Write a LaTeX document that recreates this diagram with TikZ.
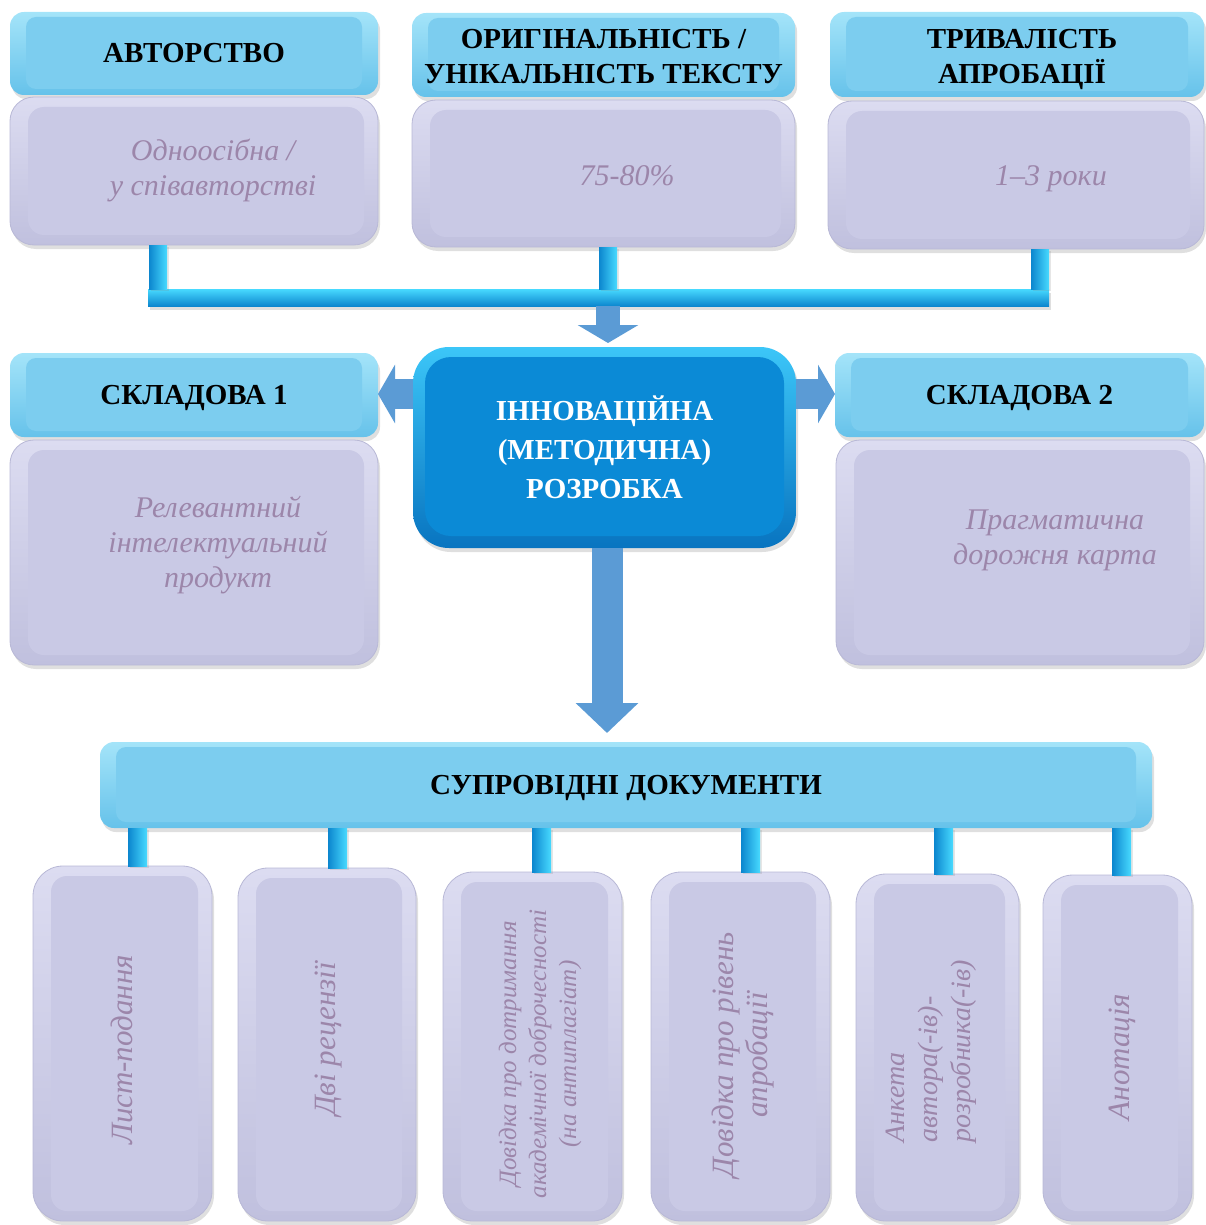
\documentclass[tikz,border=0pt]{standalone}
\usepackage{fontspec}
\setmainfont{Liberation Serif}
\usetikzlibrary{shadows,arrows.meta,calc}

\definecolor{hdrtop}{HTML}{A4E4F9}
\definecolor{hdrbot}{HTML}{66C2EA}
\definecolor{hdrface}{HTML}{7CCDEF}
\definecolor{lavtop}{HTML}{DCDCF1}
\definecolor{lavbot}{HTML}{C0C0DE}
\definecolor{lavface}{HTML}{C9C9E5}
\definecolor{lavline}{HTML}{B8B8D6}
\definecolor{lavtext}{RGB}{156,134,170}
\definecolor{coretop}{HTML}{3CC6F8}
\definecolor{corebot}{HTML}{0874C0}
\definecolor{coreface}{HTML}{0B8AD6}
\definecolor{barlight}{HTML}{48DAFF}
\definecolor{bardark}{HTML}{0C86CE}
\definecolor{arrowblue}{HTML}{5B9BD5}
\definecolor{arrowdark}{HTML}{4E88C4}

\tikzset{
  box/.style={inner sep=0pt, outer sep=0pt},
  softshadow/.style={drop shadow={opacity=0.25, shadow xshift=2pt, shadow yshift=-4pt}},
  hdrtext/.style={box, font=\fontsize{29}{35}\selectfont\bfseries, align=center},
  hdr/.style={box, softshadow, rounded corners=14pt, top color=hdrtop, bottom color=hdrbot,
    font=\fontsize{29}{35}\selectfont\bfseries, align=center,
    path picture={\fill[hdrface, rounded corners=10pt]
      ([xshift=16pt,yshift=-5pt]path picture bounding box.north west) rectangle
      ([xshift=-16pt,yshift=6pt]path picture bounding box.south east);}},
  body/.style={box, softshadow, rounded corners=24pt, top color=lavtop, bottom color=lavbot,
    draw=lavline, line width=0.8pt,
    path picture={\fill[lavface, rounded corners=16pt]
      ([xshift=18pt,yshift=-10pt]path picture bounding box.north west) rectangle
      ([xshift=-14pt,yshift=10pt]path picture bounding box.south east);}},
  docbox/.style={body, rounded corners=30pt},
  core/.style={box, softshadow, rounded corners=36pt, top color=coretop, bottom color=corebot,
    font=\fontsize{29}{39}\selectfont\bfseries, text=white, align=center,
    path picture={\fill[coreface, rounded corners=26pt]
      ([xshift=12pt,yshift=-10pt]path picture bounding box.north west) rectangle
      ([xshift=-12pt,yshift=12pt]path picture bounding box.south east);}},
  bodytext/.style={box, text=lavtext, font=\fontsize{30}{35}\selectfont\itshape, align=center},
  doctext/.style={bodytext, rotate=90, font=\fontsize{31}{34}\selectfont\itshape},
  busbar/.style={box, softshadow, top color=barlight, bottom color=bardark},
  vbar/.style={left color=bardark, right color=barlight, drop shadow={opacity=0.2, shadow xshift=2pt, shadow yshift=-2pt}},
  bigarrow/.style={draw=arrowblue, line width=31pt, -{Triangle[width=61pt,length=30pt]}, arrowblue},
  midarrow/.style={draw=arrowblue, line width=24pt, -{Triangle[width=60pt,length=18pt]}, arrowblue},
  sidearrow/.style={draw=arrowblue, line width=30pt, -{Triangle[width=58pt,length=17pt]}, arrowblue},
}

\begin{document}
\begin{tikzpicture}[x=1pt,y=-1pt]
\useasboundingbox (0,0) rectangle (1205,1225);

% ---- top row
\node[hdr, minimum width=368pt, minimum height=83pt] (h1) at (194,53.5) {АВТОРСТВО};
\node[body, minimum width=368pt, minimum height=148pt] (b1) at (194,171) {};
\node[bodytext] (t1) at (213,171) {Одноосібна /\\у співавторстві};

\node[hdr, minimum width=383pt, minimum height=84pt] (h2) at (603.5,55) {};
\node[hdrtext] (h2t) at (603.5,57) {ОРИГІНАЛЬНІСТЬ /\\УНІКАЛЬНІСТЬ ТЕКСТУ};
\node[body, minimum width=383pt, minimum height=147pt] (b2) at (603.5,173.5) {};
\node[bodytext] (t2) at (627,176) {75-80\%};

\node[hdr, minimum width=374pt, minimum height=85pt] (h3) at (1017,54.5) {};
\node[hdrtext] (h3t) at (1022,59) {ТРИВАЛІСТЬ\\АПРОБАЦІЇ};
\node[body, minimum width=376pt, minimum height=148pt] (b3) at (1016,175) {};
\node[bodytext] (t3) at (1051,179) {1–3 роки};

% ---- bus
\node[busbar, minimum width=901pt, minimum height=17pt] (bus) at (598.5,297.5) {};
\path[vbar] (149,0 |- b1.south) rectangle (167,0 |- bus.north);
\path[vbar] (599,0 |- b2.south) rectangle (617,0 |- bus.north);
\path[vbar] (1031,0 |- b3.south) rectangle (1049,0 |- bus.north);

% ---- middle row
\node[hdr, minimum width=368pt, minimum height=84pt] (s1) at (194,395) {};
\node[hdrtext] (s1t) at (194,398) {СКЛАДОВА 1};
\node[body, minimum width=368pt, minimum height=225pt] (sb1) at (194,552.5) {};
\node[bodytext] (st1) at (218,545) {Релевантний\\інтелектуальний\\продукт};

\node[core, minimum width=383pt, minimum height=201pt] (core) at (604.5,447.5) {ІННОВАЦІЙНА\\(МЕТОДИЧНА)\\РОЗРОБКА};

\node[hdr, minimum width=369pt, minimum height=84pt] (s2) at (1019.5,395) {};
\node[hdrtext] (s2t) at (1019.5,398) {СКЛАДОВА 2};
\node[body, minimum width=368pt, minimum height=225pt] (sb2) at (1020,552.5) {};
\node[bodytext] (st2) at (1055,540) {Прагматична\\дорожня карта};

\draw[midarrow] (608,0 |- bus.south) -- ([yshift=4pt]608,0 |- core.north);
\draw[sidearrow] (core.west |- 0,394) -- (s1.east |- 0,394);
\draw[sidearrow] (core.east |- 0,394) -- (s2.west |- 0,394);

% ---- bottom
\node[hdr, minimum width=1052pt, minimum height=86pt] (sup) at (626,785) {};
\node[hdrtext] (supt) at (626,788) {СУПРОВІДНІ ДОКУМЕНТИ};
\draw[bigarrow] (607,0 |- core.south) -- ([yshift=9pt]607,0 |- sup.north);

\node[docbox, minimum width=179pt, minimum height=355pt] (d1) at (122.5,1043.5) {};
\node[docbox, minimum width=178pt, minimum height=353pt] (d2) at (327,1044.5) {};
\node[docbox, minimum width=179pt, minimum height=349pt] (d3) at (532.5,1046.5) {};
\node[docbox, minimum width=179pt, minimum height=349pt] (d4) at (740.5,1046.5) {};
\node[docbox, minimum width=163pt, minimum height=347pt] (d5) at (937.5,1047.5) {};
\node[docbox, minimum width=149pt, minimum height=346pt] (d6) at (1117.5,1048) {};

\path[vbar] (128,0 |- sup.south) rectangle (147,0 |- d1.north);
\path[vbar] (328,0 |- sup.south) rectangle (347,0 |- d2.north);
\path[vbar] (532,0 |- sup.south) rectangle (551,0 |- d3.north);
\path[vbar] (741,0 |- sup.south) rectangle (760,0 |- d4.north);
\path[vbar] (934,0 |- sup.south) rectangle (953,0 |- d5.north);
\path[vbar] (1112,0 |- sup.south) rectangle (1131,0 |- d6.north);

\node[doctext] (dt1) at (122,1050) {Лист-подання};
\node[doctext] (dt2) at (329,1039) {Дві рецензії};
\node[doctext, font=\fontsize{25}{30}\selectfont\itshape] (dt3) at (540,1054) {Довідка про дотримання\\академічної доброчесності\\(на антиплагіат)};
\node[doctext] (dt4) at (743,1055) {Довідка про рівень\\апробації};
\node[doctext, align=left, font=\fontsize{28}{33}\selectfont\itshape] (dt5) at (931,1051) {Анкета\\автора(-ів)-\\розробника(-ів)};
\node[doctext] (dt6) at (1122,1057) {Анотація};
\end{tikzpicture}
\end{document}
